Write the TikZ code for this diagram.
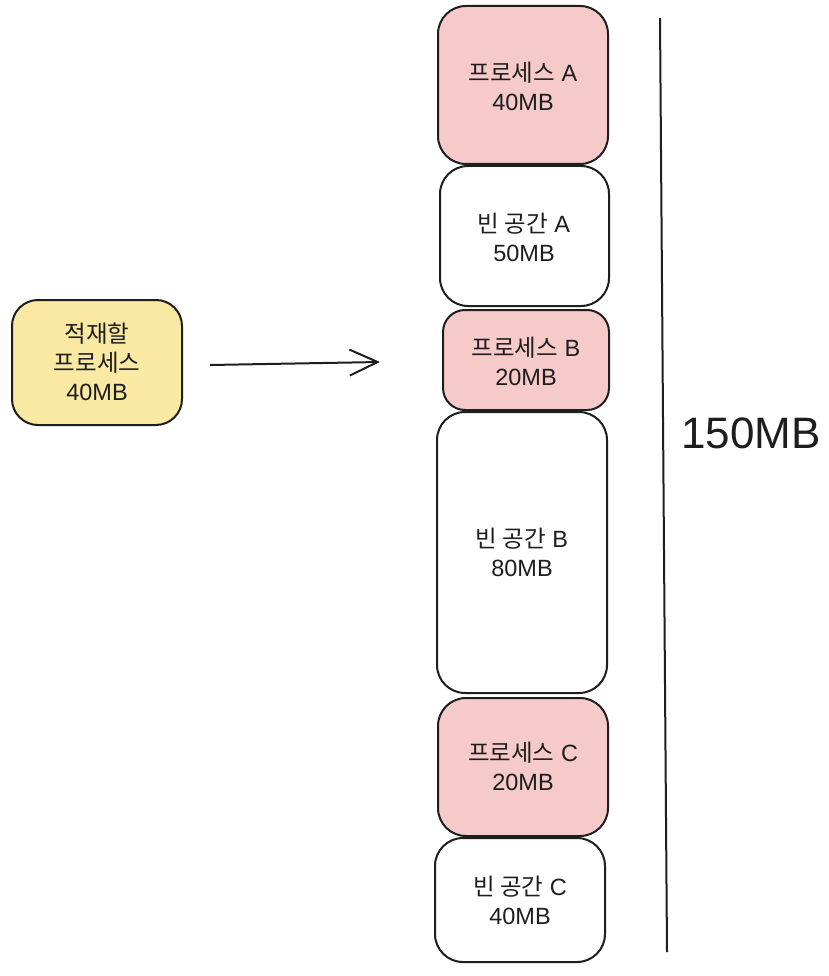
\documentclass[tikz,border=0pt]{standalone}
\usepackage{fontspec}
\setmainfont{Liberation Sans}
\newfontfamily\kr{Noto Sans CJK KR}
\usetikzlibrary{arrows.meta}
\definecolor{inkc}{HTML}{1E1E1E}
\definecolor{pinkc}{HTML}{F7CACA}
\definecolor{yelc}{HTML}{FAE9A2}
\tikzset{
  blk/.style={draw=inkc, line width=2pt, rounded corners=28pt},
  lbl/.style={align=center, font=\fontsize{23.5}{29}\selectfont, text=inkc, inner sep=0pt},
}
\begin{document}
\begin{tikzpicture}[x=1pt,y=-1pt]
\useasboundingbox[fill=white] (0,0) rectangle (828,976);
% yellow
\draw[blk, fill=yelc, rounded corners=26pt] (12,300) rectangle (182,425);
\node[lbl] (ld) at (97,362) {{\kr 적재할}\\{\kr 프로세스}\\40MB};
% memory column
\draw[blk, fill=pinkc] (438,6) rectangle (608,164);
\node[lbl] (pa) at (523,86) {{\kr 프로세스} A\\40MB};
\draw[blk, fill=white] (440,166) rectangle (609,306);
\node[lbl] (ea) at (524,237) {{\kr 빈 공간} A\\50MB};
\draw[blk, fill=pinkc, rounded corners=22pt] (443,310) rectangle (609,410);
\node[lbl] (pb) at (526,361) {{\kr 프로세스} B\\20MB};
\draw[blk, fill=white] (437,412) rectangle (607,693);
\node[lbl] (eb) at (522,552) {{\kr 빈 공간} B\\80MB};
\draw[blk, fill=pinkc] (438,698) rectangle (608,836);
\node[lbl] (pc) at (523,766) {{\kr 프로세스} C\\20MB};
\draw[blk, fill=white] (435,838) rectangle (605,962);
\node[lbl] (ec) at (520,900) {{\kr 빈 공간} C\\40MB};
% arrow
\coordinate (a1) at (210,365);
\coordinate (a2) at (380,362);
\draw[inkc, line width=2pt, -{Straight Barb[length=28pt,width=26pt,line width=2pt]}] (a1) -- (a2);
% vertical line
\coordinate (v1) at (660,18);
\coordinate (v2) at (667,952);
\draw[inkc, line width=2pt] (v1) -- (v2);
\node[text=inkc, font=\fontsize{44}{52}\selectfont, inner sep=0pt] (tot) at (751,433) {150MB};
\end{tikzpicture}
\end{document}
